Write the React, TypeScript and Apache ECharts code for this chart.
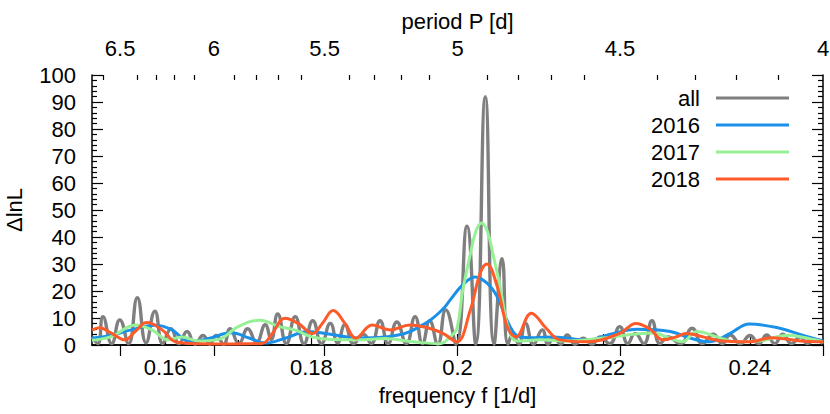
import React, { useEffect, useRef } from "react";
import * as echarts from "echarts";

// frequency f [1/d], ΔlnL
const allData: number[][] = [
  [0.15, 3], [0.1508, 0.5], [0.1515, 10.5], [0.1527, 0.5], [0.1538, 9.3], [0.155, 0.5],
  [0.1562, 17.5], [0.1574, 0.8], [0.1586, 12.5], [0.1597, 0.5], [0.1608, 6], [0.1619, 0.5],
  [0.163, 5], [0.1641, 0.3], [0.1652, 3.5], [0.1661, 0.3], [0.167, 3.5], [0.168, 0.3],
  [0.1689, 6], [0.1701, 0.5], [0.1713, 6], [0.1725, 1], [0.1737, 7.5], [0.1745, 2],
  [0.1754, 11.5], [0.1766, 0.5], [0.1778, 10.5], [0.179, 0.5], [0.1802, 9], [0.1814, 0.5],
  [0.1826, 8], [0.1836, 0.8], [0.1846, 7.5], [0.1858, 0.5], [0.1871, 4], [0.1882, 0.5],
  [0.1894, 9], [0.1905, 0.5], [0.1917, 8.5], [0.193, 0.5], [0.1942, 10.5], [0.1952, 0.5],
  [0.1962, 9], [0.1973, 0.3], [0.1984, 13], [0.1998, 0.3], [0.2013, 44], [0.2025, 0.3],
  [0.2038, 92], [0.205, 0.3], [0.2061, 32], [0.2069, 0.3], [0.2076, 4], [0.2084, 0.3],
  [0.2093, 8], [0.2104, 0.3], [0.2116, 5.6], [0.2124, 0.3], [0.2132, 3], [0.2141, 0.3],
  [0.215, 3.7], [0.2161, 0.3], [0.2172, 2.5], [0.2184, 0.3], [0.2195, 3], [0.2208, 0.5],
  [0.2222, 6.8], [0.2233, 0.5], [0.2243, 4.3], [0.2255, 0.5], [0.2266, 9], [0.2277, 0.5],
  [0.2288, 3], [0.2305, 0.5], [0.2321, 6.2], [0.2335, 0.5], [0.235, 4], [0.2362, 0.5],
  [0.2373, 3.7], [0.2387, 0.5], [0.24, 3.5], [0.2412, 0.5], [0.2423, 3.7], [0.2434, 0.5],
  [0.2445, 4], [0.2457, 0.5], [0.2469, 3], [0.2479, 0.5], [0.2489, 2], [0.25, 0.5],
];

const data2016: number[][] = [
  [0.15, 2.5], [0.1525, 3.5], [0.1552, 5.5], [0.1586, 7.3], [0.1607, 6], [0.1635, 1.2],
  [0.1661, 2.5], [0.169, 4.5], [0.1716, 2.5], [0.1737, 0.7], [0.1764, 2.5], [0.1795, 5],
  [0.1826, 4], [0.1864, 2.6], [0.1919, 3.7], [0.1956, 8], [0.1979, 13], [0.199, 16.7],
  [0.2006, 22], [0.2024, 25.2], [0.204, 23], [0.2054, 18], [0.2072, 6.8], [0.2085, 3],
  [0.2106, 2.7], [0.2131, 3], [0.2177, 1.8], [0.2209, 4], [0.2246, 5.8], [0.2291, 5],
  [0.2318, 2.6], [0.2345, 1.2], [0.2373, 4.3], [0.2399, 7.8], [0.2441, 6.2], [0.2473, 3.5],
  [0.25, 1.5],
];

const data2017: number[][] = [
  [0.15, 1.8], [0.1525, 3], [0.156, 7.4], [0.1582, 5.6], [0.1604, 1.9], [0.1623, 3],
  [0.1645, 1.5], [0.1672, 2], [0.17, 6.8], [0.173, 9.2], [0.1754, 7], [0.1778, 5.5],
  [0.1801, 3], [0.1828, 2], [0.1864, 1.9], [0.1901, 2.4], [0.1939, 1.2], [0.1976, 0.5],
  [0.199, 3], [0.1999, 6], [0.2007, 20], [0.2017, 33], [0.2025, 42], [0.2033, 45.2],
  [0.2041, 42], [0.2049, 33], [0.2058, 22], [0.2066, 10], [0.2074, 3], [0.2082, 1.5],
  [0.2113, 1.9], [0.2154, 1.5], [0.2199, 2.6], [0.2267, 4.4], [0.2291, 2.5], [0.2307, 1.2],
  [0.2328, 5], [0.2355, 3], [0.2382, 1.2], [0.2413, 1.5], [0.2452, 3.6], [0.2482, 2.3],
  [0.25, 1.2],
];

const data2018: number[][] = [
  [0.15, 5.5], [0.151, 6.4], [0.1527, 4.3], [0.1545, 1.9], [0.1559, 5], [0.1575, 8.3],
  [0.1596, 5.6], [0.1614, 1.2], [0.1641, 0.5], [0.1689, 0.4], [0.1733, 0.6], [0.1746, 4],
  [0.1764, 9.9], [0.1782, 8], [0.1802, 4.3], [0.1815, 8], [0.183, 12.8], [0.1846, 8],
  [0.1861, 2.5], [0.1883, 7.4], [0.1908, 5.6], [0.1935, 7.4], [0.196, 6.3], [0.198, 4.3],
  [0.1999, 1.2], [0.2017, 12.5], [0.2031, 26.6], [0.204, 30], [0.2054, 22], [0.2068, 6.8],
  [0.208, 3], [0.2101, 11.8], [0.2121, 6.3], [0.214, 1.9], [0.2177, 1.2], [0.2222, 4.3],
  [0.2244, 8], [0.2263, 6], [0.2281, 1.9], [0.2299, 3], [0.2313, 4.3], [0.2336, 3],
  [0.2359, 1.6], [0.24, 1.2], [0.243, 2.7], [0.2469, 1.5], [0.25, 1.2],
];

const seriesNames = ["all", "2016", "2017", "2018"];
const seriesColors = ["#7f7f7f", "#1a90e8", "#96f096", "#ff5a2a"];
const freqLabels = [0.16, 0.18, 0.2, 0.22, 0.24];
const freqMinor = [0.17, 0.19, 0.21, 0.23];
const periodLabels = [6.5, 6, 5.5, 5, 4.5, 4];
const periodMinor = [
  6.6, 6.4, 6.3, 6.2, 6.1, 5.9, 5.8, 5.7, 5.6, 5.4, 5.3, 5.2, 5.1,
  4.9, 4.8, 4.7, 4.6, 4.4, 4.3, 4.2, 4.1,
];

const FONT = "'Liberation Sans', Arial, Helvetica, sans-serif";
const FS = 22;

export default function App() {
  const ref = useRef<HTMLDivElement>(null);
  useEffect(() => {
    if (!ref.current) return;
    const chart = echarts.init(ref.current, null, { renderer: "svg" });
    const axisLine = { show: true, lineStyle: { color: "#000", width: 1.5 } };
    const tickLine = { color: "#000", width: 1.2 };
    const gridBox = { left: 92, right: 7, top: 75, bottom: 69, containLabel: false, outerBoundsMode: "none" };
    const xBase = { type: "value", min: 0.15, max: 0.25, splitLine: { show: false } };
    const allSeries = [allData, data2016, data2017, data2018];
    chart.setOption({
      animation: false,
      backgroundColor: "#fff",
      textStyle: { fontFamily: FONT },
      grid: [gridBox, { ...gridBox }],
      legend: {
        orient: "vertical",
        right: 36,
        top: 81,
        align: "right",
        icon: "rect",
        itemWidth: 73,
        itemHeight: 3,
        itemGap: 3,
        data: seriesNames,
        textStyle: { fontSize: FS, fontFamily: FONT, color: "#000", lineHeight: 24, padding: [0, 11, 0, 0] },
      },
      xAxis: [
        {
          ...xBase,
          gridIndex: 0,
          position: "bottom",
          name: "frequency f [1/d]",
          nameLocation: "middle",
          nameGap: 39,
          nameTextStyle: { fontSize: FS, fontFamily: FONT, color: "#000" },
          axisLine,
          axisTick: { show: true, inside: true, length: 11, customValues: freqLabels, lineStyle: tickLine },
          axisLabel: {
            show: true,
            customValues: freqLabels,
            fontSize: FS,
            fontFamily: FONT,
            color: "#000",
            margin: 11,
            formatter: (v: number) => String(Math.round(v * 100) / 100),
          },
        },
        {
          ...xBase,
          gridIndex: 0,
          position: "top",
          name: "period P [d]",
          nameLocation: "middle",
          nameGap: 42,
          nameTextStyle: { fontSize: FS, fontFamily: FONT, color: "#000" },
          axisLine,
          axisTick: { show: true, inside: true, length: 11, customValues: periodLabels.map((p) => 1 / p), lineStyle: tickLine },
          axisLabel: {
            show: true,
            customValues: periodLabels.map((p) => 1 / p),
            fontSize: FS,
            fontFamily: FONT,
            color: "#000",
            margin: 16,
            formatter: (v: number) => String(Math.round((1 / v) * 10) / 10),
          },
        },
        {
          ...xBase,
          gridIndex: 1,
          position: "bottom",
          axisLine: { show: false },
          axisTick: { show: true, inside: true, length: 5, customValues: freqMinor, lineStyle: tickLine },
          axisLabel: { show: false },
        },
        {
          ...xBase,
          gridIndex: 1,
          position: "top",
          axisLine: { show: false },
          axisTick: { show: true, inside: true, length: 5, customValues: periodMinor.map((p) => 1 / p), lineStyle: tickLine },
          axisLabel: { show: false },
        },
      ],
      yAxis: [
        {
          type: "value",
          gridIndex: 0,
          min: 0,
          max: 100,
          interval: 10,
          position: "left",
          name: "ΔlnL",
          nameLocation: "middle",
          nameGap: 67,
          nameRotate: 90,
          nameTextStyle: { fontSize: FS, fontFamily: FONT, color: "#000" },
          axisLine,
          axisTick: { show: true, inside: true, length: 11, lineStyle: tickLine },
          minorTick: { show: true, splitNumber: 5, length: 5, lineStyle: tickLine },
          axisLabel: { fontSize: FS, fontFamily: FONT, color: "#000", margin: 16 },
          splitLine: { show: false },
        },
        {
          type: "value",
          gridIndex: 0,
          min: 0,
          max: 100,
          interval: 10,
          position: "right",
          axisLine,
          axisTick: { show: true, inside: true, length: 11, lineStyle: tickLine },
          minorTick: { show: true, splitNumber: 5, length: 5, lineStyle: tickLine },
          axisLabel: { show: false },
          splitLine: { show: false },
        },
        {
          type: "value",
          gridIndex: 1,
          min: 0,
          max: 100,
          show: false,
        },
      ],
      series: seriesNames.map((name, i) => ({
        name,
        type: "line",
        xAxisIndex: 0,
        yAxisIndex: 0,
        data: allSeries[i],
        smooth: i === 0 ? 0.5 : 0.4,
        showSymbol: false,
        symbol: "none",
        clip: true,
        color: seriesColors[i],
        lineStyle: { color: seriesColors[i], width: i === 0 ? 3.4 : 3 },
        z: 2 + i,
      })),
    });
    return () => chart.dispose();
  }, []);
  return <div ref={ref} style={{ position: "fixed", left: 0, top: 0, width: 830, height: 414 }} />;
}
